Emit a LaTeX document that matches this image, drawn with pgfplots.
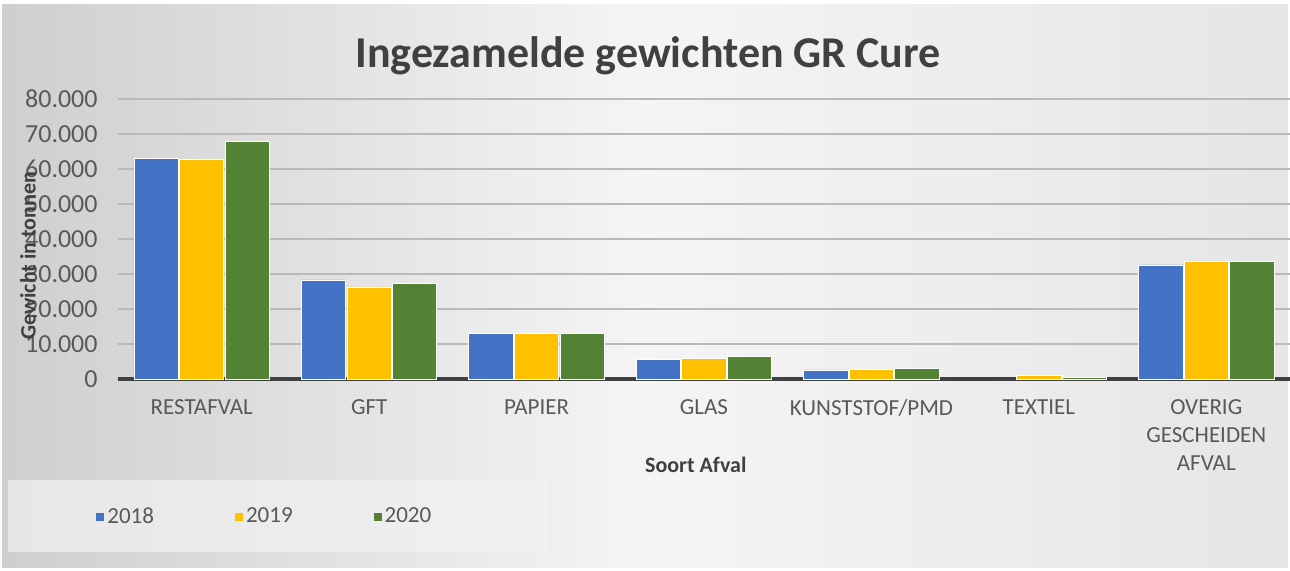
\documentclass[border=0pt]{standalone}
\usepackage{fontspec}
\setmainfont{Carlito}
\usepackage{pgfplots}
\pgfplotsset{compat=1.18}

\definecolor{c2018}{HTML}{4472C4}
\definecolor{c2019}{HTML}{FFC000}
\definecolor{c2020}{HTML}{548235}
\definecolor{txt}{HTML}{595959}

\begin{document}
\begin{tikzpicture}
% canvas 1290x570 px at 0.5pt per px
\useasboundingbox (0,0) rectangle (645pt,285pt);
\fill[white] (0,0) rectangle (645pt,285pt);
\shade[left color=gray!38, right color=gray!20, middle color=gray!8] (1pt,1.5pt) rectangle (644pt,283pt);
\shade[inner color=white, outer color=white, opacity=0] (1pt,1.5pt) rectangle (644pt,283pt);
\fill[gray!10, opacity=0.7] (4pt,9pt) rectangle (273.5pt,45pt);
\node[font=\fontsize{22}{26}\selectfont\bfseries, text=black!75] at (324pt,257pt) {Ingezamelde gewichten GR Cure};

\begin{axis}[
  at={(59pt,95.5pt)}, anchor=south west,
  scale only axis, width=586pt, height=140pt,
  xmin=-0.5, xmax=6.5, ymin=0, ymax=80000,
  ybar, bar width=0.265,
  axis lines*=left,
  y axis line style={draw=none},
  x axis line style={line width=1.6pt, color=black!75, -},
  major tick length=0pt,
  ytick={0,10000,...,80000},
  ymajorgrids, grid style={gray!55, line width=0.7pt},
  scaled y ticks=false,
  /pgf/number format/.cd, 1000 sep={.}, assume math mode=true, /pgfplots/.cd,
  yticklabel style={font=\fontsize{13}{15}\selectfont, text=txt, anchor=east, inner sep=0pt, xshift=-10pt},
  xtick={0,...,6},
  xticklabels={RESTAFVAL, GFT, PAPIER, GLAS, KUNSTSTOF/PMD, TEXTIEL, {OVERIG\\GESCHEIDEN\\AFVAL}},
  xticklabel style={font=\fontsize{11.5}{14}\selectfont, text=txt, align=center, anchor=north, inner sep=0pt, yshift=-10pt},
  xlabel={Soort Afval},
  xlabel style={font=\fontsize{11}{13}\selectfont\bfseries, text=black!75, at={(axis description cs:0.493,0)}, anchor=center, yshift=-43pt},
  ylabel={Gewicht in tonnen},
  ylabel style={font=\fontsize{11}{13}\selectfont\bfseries, text=black!75, at={(axis description cs:0,0.44)}, anchor=center, yshift=45pt},
  legend columns=3,
  legend style={draw=none, fill=none, at={(axis description cs:0,0)}, anchor=west, xshift=-14pt, yshift=-69pt,
    font=\fontsize{11.5}{13}\selectfont, text=txt,
    nodes={inner sep=1.5pt},
    /tikz/every even column/.append style={column sep=39pt}},
  legend image code/.code={\path[#1, draw=none] (0pt,-2pt) rectangle (4pt,2pt);},
]
\addplot[fill=c2018, draw=white, line width=0.4pt, bar shift=-0.272] coordinates {
  (0,62900) (1,28300) (2,13100) (3,5700) (4,2600) (6,32600)};
\addlegendentry{2018}
\addplot[fill=c2019, draw=white, line width=0.4pt, bar shift=0] coordinates {
  (0,62800) (1,26300) (2,12900) (3,5900) (4,2700) (5,900) (6,33700)};
\addlegendentry{2019}
\addplot[fill=c2020, draw=white, line width=0.4pt, bar shift=0.272] coordinates {
  (0,68000) (1,27400) (2,13100) (3,6400) (4,3000) (5,500) (6,33700)};
\addlegendentry{2020}
\end{axis}
\end{tikzpicture}
\end{document}
